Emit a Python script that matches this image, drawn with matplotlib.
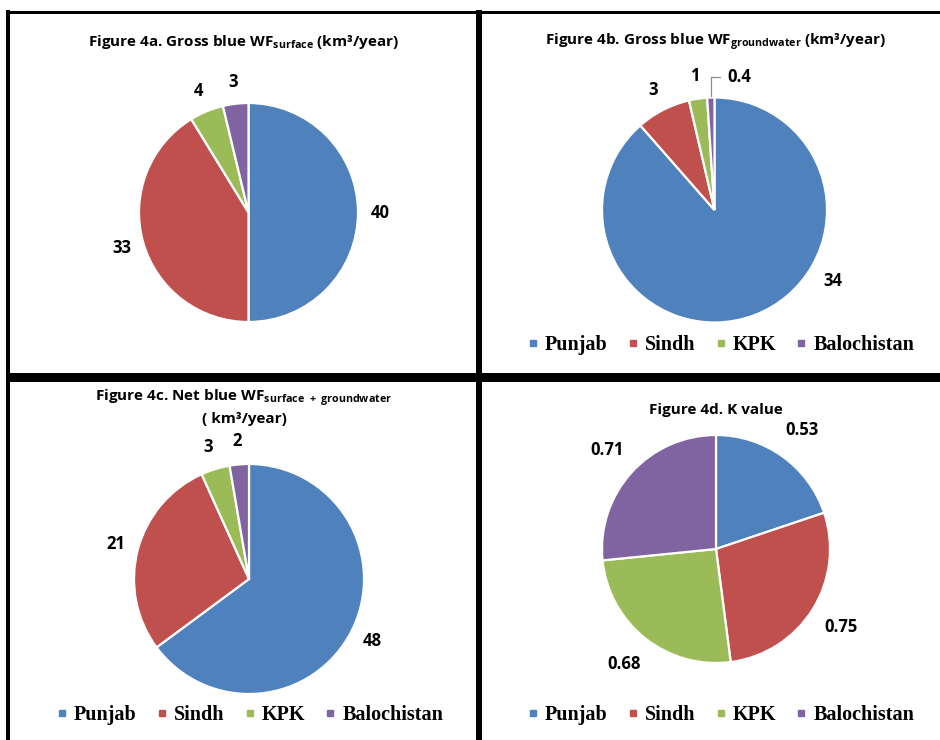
import matplotlib
matplotlib.use("Agg")
import matplotlib.pyplot as plt
from matplotlib.lines import Line2D
import numpy as np

regions = ["Punjab", "Sindh", "KPK", "Balochistan"]
gross_surface = [40, 33, 4, 3]
gross_groundwater = [34, 3, 1, 0.4]
net_blue = [48, 21, 3, 2]
k_value = [0.53, 0.75, 0.68, 0.71]

colors = ["#4F81BD", "#C0504D", "#9BBB59", "#8064A2"]

plt.rcParams["mathtext.default"] = "regular"

W, H = 940, 740
fig = plt.figure(figsize=(W / 100, H / 100), dpi=100)
fig.patch.set_facecolor("white")

def px(x, y):
    return x / W, 1 - y / H

# frames
lw_px = 0.72
def hline(y, x0, x1, w):
    fig.add_artist(Line2D([x0 / W, x1 / W], [1 - y / H, 1 - y / H], color="black",
                          lw=w * lw_px, transform=fig.transFigure, solid_capstyle="butt"))
def vline(x, y0, y1, w):
    fig.add_artist(Line2D([x / W, x / W], [1 - y0 / H, 1 - y1 / H], color="black",
                          lw=w * lw_px, transform=fig.transFigure, solid_capstyle="butt"))

hline(12, 6, 940, 3)
hline(377.5, 6, 940, 9)
vline(8, 10, 740, 4)
vline(479, 10, 740, 6)

label_font = dict(family="Open Sans", weight="bold", size=12)
title_font = dict(family="Open Sans", weight="bold", size=11)
legend_prop = dict(family="Liberation Serif", weight="bold", size=14.5)

def draw_pie(values, cx, cy, r, dist, overrides=None, leader=None):
    s = 1.5
    ax = fig.add_axes([(cx - s * r) / W, (H - cy - s * r) / H, 2 * s * r / W, 2 * s * r / H])
    wedges, _ = ax.pie(values, colors=colors, startangle=90, counterclock=False,
                       radius=1, wedgeprops=dict(edgecolor="white", linewidth=1.6))
    ax.set_xlim(-s, s)
    ax.set_ylim(-s, s)
    ax.set_aspect("equal")
    ax.axis("off")
    overrides = overrides or {}
    for i, (w, v) in enumerate(zip(wedges, values)):
        mid = np.deg2rad((w.theta1 + w.theta2) / 2)
        txt = f"{v:g}"
        if leader is not None and i == leader[0]:
            tx, ty = leader[1]
            ax.annotate(txt, xy=(np.cos(mid) * 1.01, np.sin(mid) * 1.01), xytext=(tx, ty),
                        ha="left", va="center", **label_font,
                        arrowprops=dict(arrowstyle="-", color="#8c8c8c", lw=0.9,
                                        connectionstyle="angle,angleA=0,angleB=90,rad=0",
                                        shrinkA=3, shrinkB=0))
            continue
        ang, d = overrides.get(i, (None, dist))
        a = np.deg2rad(ang) if ang is not None else mid
        ax.text(np.cos(a) * d, np.sin(a) * d, txt, ha="center", va="center", **label_font)
    return ax, wedges

ax_a, w_a = draw_pie(gross_surface, 248.5, 212.5, 109.5, 1.2)
ax_b, w_b = draw_pie(gross_groundwater, 714.5, 210, 112.5, 1.2,
                     overrides={0: (-31, 1.23)}, leader=(3, (0.11, 1.18)))
ax_c, w_c = draw_pie(net_blue, 249, 579, 115, 1.2)
ax_d, w_d = draw_pie(k_value, 716, 549, 114, 1.29)

# titles
fig.text(*px(243, 42), "Figure 4a. Gross blue WF$_{surface}$ (km³/year)",
         ha="center", va="center", **title_font)
fig.text(*px(716, 42), "Figure 4b. Gross blue WF$_{groundwater}$ (km³/year)",
         ha="center", va="center", **title_font)
fig.text(*px(244, 398), "Figure 4c. Net blue WF$_{surface\\ +\\ groundwater}$",
         ha="center", va="center", **title_font)
fig.text(*px(244, 419), "( km³/year)", ha="center", va="center", **title_font)
fig.text(*px(716, 410), "Figure 4d. K value", ha="center", va="center", **title_font)

# legends
handles = [Line2D([], [], marker="s", linestyle="none", markersize=5,
                  markerfacecolor=c, markeredgecolor=c) for c in colors]
for (lx, ly) in [(721, 345), (250, 715), (721, 715)]:
    fig.legend(handles, regions, loc="center", bbox_to_anchor=px(lx, ly), ncol=4,
               frameon=False, handlelength=0.5, handletextpad=0.35, columnspacing=1.0,
               prop=legend_prop, borderaxespad=0, borderpad=0)

fig.savefig("out.png", dpi=100, facecolor="white")
